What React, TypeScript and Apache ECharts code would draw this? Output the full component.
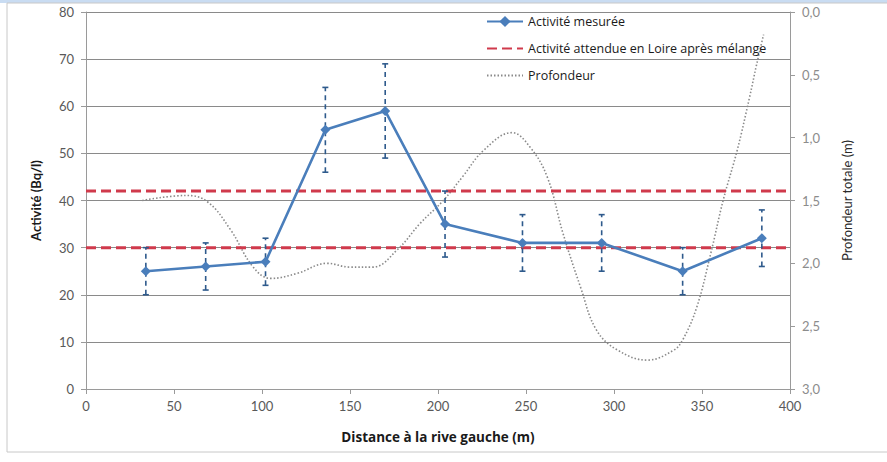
import React, { useEffect, useRef } from "react";
import * as echarts from "echarts";

// Measured activity (Bq/l) vs distance from left bank (m)
const distances = [34, 68, 102, 136, 170, 204, 248, 293, 339, 384];
const activity = [25, 26, 27, 55, 59, 35, 31, 31, 25, 32];
const activityError = [5, 5, 5, 9, 10, 7, 6, 6, 5, 6];

// Expected activity levels after mixing (Bq/l)
const expectedLevels = [30, 42];
const xExtent = [0, 400];

// Depth profile (m)
const depthX = [32, 57, 69, 82, 95, 105, 120, 137, 150, 163, 177, 190, 203, 214, 226, 242, 252, 262, 271, 281, 290, 302, 319, 334, 339, 347, 355, 362, 370, 377, 381, 385];
const depth = [1.5, 1.46, 1.51, 1.73, 2.03, 2.12, 2.08, 2.0, 2.03, 2.03, 1.89, 1.68, 1.5, 1.31, 1.1, 0.96, 1.07, 1.31, 1.76, 2.19, 2.53, 2.69, 2.77, 2.69, 2.61, 2.35, 1.92, 1.5, 1.1, 0.68, 0.42, 0.18];

const FONT = "Lato";
const WIDE = "Open Sans";

export default function App() {
  const ref = useRef<HTMLDivElement>(null);
  useEffect(() => {
    if (!ref.current) return;
    const chart = echarts.init(ref.current, null, { renderer: "svg" });
    const measured = distances.map((d, i) => [d, activity[i]]);
    const errData = distances.map((d, i) => [d, activity[i] - activityError[i], activity[i] + activityError[i]]);
    const depthData = depthX.map((d, i) => [d, depth[i]]);
    const redColor = "#d03a4c";
    chart.setOption({
      animation: false,
      textStyle: { fontFamily: FONT },
      graphic: [
        { type: "rect", shape: { x: 0, y: 0, width: 887, height: 3 }, style: { fill: "#c9dcf2" }, silent: true },
        { type: "rect", shape: { x: 7, y: 3, width: 900, height: 449 }, style: { fill: "none", stroke: "#c8c8c8", lineWidth: 1 }, silent: true },
      ],
      grid: { left: 86, right: 97, top: 12, bottom: 73 },
      legend: {
        orient: "vertical",
        left: 481,
        top: 10,
        itemGap: 14,
        itemWidth: 36,
        itemHeight: 14,
        textStyle: { fontFamily: WIDE, fontSize: 12.5, color: "#1a1a1a" },
        data: [
          { name: "Activité mesurée" },
          { name: "Activité attendue en Loire après mélange", itemStyle: { opacity: 0 } },
          { name: "Profondeur", itemStyle: { opacity: 0 } },
        ],
      },
      xAxis: {
        type: "value",
        min: 0,
        max: 400,
        interval: 50,
        name: "Distance à la rive gauche (m)",
        nameLocation: "middle",
        nameGap: 41,
        nameTextStyle: { fontFamily: WIDE, fontSize: 13.5, fontWeight: "bold", color: "#1a1a1a" },
        axisLine: { show: true, lineStyle: { color: "#9a9a9a" } },
        axisTick: { show: true, length: 5, lineStyle: { color: "#9a9a9a" } },
        axisLabel: { fontFamily: FONT, fontSize: 13, color: "#595959", margin: 10 },
        splitLine: { show: false },
      },
      yAxis: [
        {
          type: "value",
          min: 0,
          max: 80,
          interval: 10,
          name: "Activité (Bq/l)",
          nameLocation: "middle",
          nameRotate: 90,
          nameGap: 44,
          nameTextStyle: { fontFamily: FONT, fontSize: 13, fontWeight: "bold", color: "#1a1a1a" },
          axisLine: { show: true, lineStyle: { color: "#9a9a9a" } },
          axisTick: { show: true, length: 5, lineStyle: { color: "#9a9a9a" } },
          axisLabel: { fontFamily: FONT, fontSize: 13, color: "#595959", margin: 12 },
          splitLine: { show: true, lineStyle: { color: "#8a8a8a", width: 1 } },
        },
        {
          type: "value",
          min: 0,
          max: 3,
          interval: 0.5,
          inverse: true,
          position: "right",
          name: "Profondeur totale (m)",
          nameLocation: "middle",
          nameRotate: 90,
          nameGap: 50,
          nameTextStyle: { fontFamily: FONT, fontSize: 13, color: "#2a2a2a" },
          axisLine: { show: true, lineStyle: { color: "#9a9a9a" } },
          axisTick: { show: true, length: 5, lineStyle: { color: "#9a9a9a" } },
          axisLabel: {
            fontFamily: FONT,
            fontSize: 13,
            color: "#8c8c8c",
            margin: 12,
            formatter: (v: number) => v.toFixed(1).replace(".", ","),
          },
          splitLine: { show: false },
        },
      ],
      series: [
        {
          name: "Profondeur",
          type: "line",
          yAxisIndex: 1,
          data: depthData,
          smooth: 0.4,
          showSymbol: false,
          symbol: "none",
          lineStyle: { color: "#8a8a8a", width: 1.6, type: [1.5, 2] },
          itemStyle: { color: "#8a8a8a" },
          z: 2,
        },
        ...expectedLevels.map((lvl, idx) => ({
          name: "Activité attendue en Loire après mélange",
          type: "line",
          data: [[xExtent[0], lvl], [xExtent[1], lvl]],
          showSymbol: false,
          symbol: "none",
          lineStyle: { color: redColor, width: 3, type: [10, 5] },
          itemStyle: { color: redColor },
          z: 3 + idx,
        })),
        {
          name: "Erreur",
          type: "custom",
          data: errData,
          z: 5,
          renderItem: (params: any, api: any) => {
            const x = api.value(0);
            const lo = api.coord([x, api.value(1)]);
            const hi = api.coord([x, api.value(2)]);
            const cap = 3;
            const stroke = { stroke: "#2e5a8c", lineWidth: 1.6 };
            return {
              type: "group",
              children: [
                { type: "line", shape: { x1: lo[0], y1: lo[1], x2: hi[0], y2: hi[1] }, style: { ...stroke, lineDash: [5, 4] } },
                { type: "line", shape: { x1: lo[0] - cap, y1: lo[1], x2: lo[0] + cap, y2: lo[1] }, style: stroke },
                { type: "line", shape: { x1: hi[0] - cap, y1: hi[1], x2: hi[0] + cap, y2: hi[1] }, style: stroke },
              ],
            };
          },
          encode: { x: 0, y: [1, 2] },
        },
        {
          name: "Activité mesurée",
          type: "line",
          data: measured,
          symbol: "diamond",
          symbolSize: 10,
          lineStyle: { color: "#4a7ebb", width: 2.6 },
          itemStyle: { color: "#4a7ebb" },
          z: 6,
        },
      ],
    });
    return () => chart.dispose();
  }, []);
  return <div ref={ref} style={{ width: 887, height: 462, position: "absolute", left: 0, top: 0, background: "#fff" }} />;
}
